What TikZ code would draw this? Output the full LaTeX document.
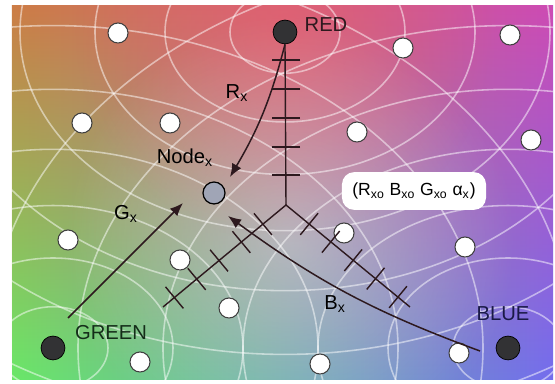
\documentclass[tikz,border=0pt]{standalone}
\usepackage{fontspec}
\setmainfont{Liberation Sans}
\usepackage{tikz}
\usetikzlibrary{arrows.meta, positioning, calc, fadings, backgrounds}
\definecolor{cornerTL}{RGB}{205, 125, 70}
\definecolor{cornerTR}{RGB}{205, 75, 180}
\definecolor{cornerBL}{RGB}{105, 232, 105}
\definecolor{cornerBR}{RGB}{115, 110, 238}
\definecolor{redGlow}{RGB}{240, 95, 105}
\definecolor{anchorFill}{RGB}{50, 50, 52}
\definecolor{nodeFill}{RGB}{160, 165, 182}
\definecolor{inkDark}{RGB}{45, 25, 30}
\tikzfading[name=fadeTop, top color=transparent!0, bottom color=transparent!100]
\tikzfading[name=fadeGlow, inner color=transparent!45, outer color=transparent!100]
\tikzfading[name=fadeMist, inner color=transparent!65, outer color=transparent!100]

\begin{document}
\begin{tikzpicture}[x=0.02cm, y=-0.02cm, font=\fontsize{11.5}{13}\selectfont,
    anchordot/.style={circle, draw=black, fill=anchorFill, minimum size=13.6pt, inner sep=0pt},
    sensor/.style={circle, draw=black!75, line width=0.6pt, fill=white, minimum size=11.4pt, inner sep=0pt},
    contour/.style={white, opacity=0.5, line width=0.9pt},
    tickmark/.style={inkDark, line width=0.8pt},
    arrowline/.style={inkDark, line width=0.85pt, -{Latex[length=7.5pt, width=6pt]}}]
    \useasboundingbox (0,0) rectangle (555,384);

    % Anchors and the unknown node
    \node[anchordot] (red) at (285,32) {};
    \node[anchordot] (green) at (53,348) {};
    \node[anchordot] (blue) at (508,348) {};
    \node[circle, draw=black, line width=0.7pt, fill=nodeFill, minimum size=12.5pt, inner sep=0pt] (nodeX) at (214,193) {};

    % Other sensors
    \foreach \x/\y [count=\i] in {118/33, 403/48, 510/35, 82/123, 170/123, 357/132, 531/140, 68/240,
        180/260, 344/233, 465/247, 229/308, 140/362, 320/364, 459/353}
        \node[sensor] (s\i) at (\x,\y) {};

    % Colour field
    \begin{scope}[on background layer]
        \fill[white] (0,0) rectangle (555,384);
        \shade[left color=cornerBL, right color=cornerBR] (12,6) rectangle (553,380);
        \shade[left color=cornerTL, right color=cornerTR, path fading=fadeTop] (12,6) rectangle (553,380);
        \clip (12,6) rectangle (553,380);
        \fill[redGlow, path fading=fadeGlow] (red) circle (4.2cm);
        \fill[white, path fading=fadeMist] (290,240) circle (4.5cm);
        \foreach \r in {55,120,190,265,345,430,520}{
            \draw[contour] (red) ellipse [x radius=\r*0.02cm, y radius=\r*0.015cm];
            \draw[contour] (green) ellipse [x radius=\r*0.02cm, y radius=\r*0.015cm];
            \draw[contour] (blue) ellipse [x radius=\r*0.02cm, y radius=\r*0.015cm];
        }
    \end{scope}

    % Y with scale marks
    \coordinate (hub) at (286,205);
    \coordinate (legL) at (163,307);
    \coordinate (legR) at (410,307);
    \draw[tickmark] (red.south) -- (hub);
    \draw[tickmark] (legL) -- (hub) -- (legR);
    \foreach \a in {270,140.3,39.4}
        \foreach \d in {30,58,87,116,145}
            \draw[tickmark] ($(hub)+(\a:\d)+(\a+90:14)$) -- ($(hub)+(\a:\d)+(\a-90:14)$);

    % Distance arrows
    \coordinate (rTip) at (230,177);
    \coordinate (gTail) at (68,318);
    \coordinate (gTip) at (183,203);
    \coordinate (bTail) at (480,351);
    \coordinate (bTip) at (228,216);
    \draw[arrowline] (red.south) to[bend left=8] (rTip);
    \draw[arrowline] (gTail) -- (gTip);
    \draw[arrowline] (bTail) to[bend left=8] (bTip);

    % Labels
    \node[text=inkDark] (redLbl) at (326,25) {RED};
    \node[text={rgb,255:red,20;green,45;blue,25}] (greenLbl) at (111,333) {GREEN};
    \node[text={rgb,255:red,25;green,25;blue,70}] (blueLbl) at (503,314) {BLUE};
    \node (nodeLbl) at (185,158) {Node\textsubscript{x}};
    \node (rLbl) at (237,93) {R\textsubscript{x}};
    \node (gLbl) at (126,214) {G\textsubscript{x}};
    \node (bLbl) at (335,304) {B\textsubscript{x}};
    \node[fill=white, rounded corners=7pt, minimum width=82pt, minimum height=21.5pt,
        font=\fontsize{10}{12}\selectfont] (tuple) at (414,191)
        {(R\textsubscript{xo} B\textsubscript{xo} G\textsubscript{xo} α\textsubscript{x})};
\end{tikzpicture}
\end{document}
